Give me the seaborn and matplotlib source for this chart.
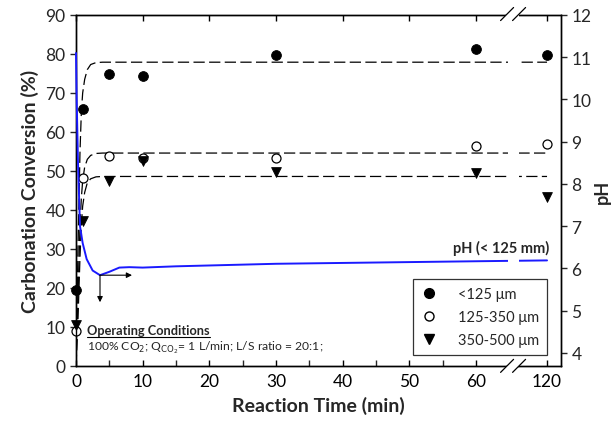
import numpy as np
import pandas as pd
import matplotlib
matplotlib.use("Agg")
import matplotlib.pyplot as plt
import seaborn as sns
from matplotlib.lines import Line2D
from matplotlib.patches import Polygon

# ---------------- data ----------------
t_points = [0, 1, 5, 10, 30, 60, 120]
conv_lt125 = [19.6, 65.8, 74.9, 74.3, 79.8, 81.4, 79.8]
conv_125_350 = [9.0, 48.2, 53.8, 53.4, 53.4, 56.5, 56.8]
conv_350_500 = [10.5, 37.2, 47.4, 52.6, 49.8, 49.5, 43.3]

fit_t = [0, 0.3, 0.6, 0.8, 1.0, 1.3, 1.7, 2.2, 3.0, 4.0, 120]
fit_lt125 = [0, 30, 55, 65, 70, 73.5, 76, 77.3, 77.8, 77.9, 77.9]
fit_125_350 = [0, 18, 36, 43, 47.5, 51, 53, 54, 54.5, 54.6, 54.6]
fit_350_500 = [0, 12, 28, 36, 41, 44.5, 47, 48, 48.5, 48.6, 48.6]

ph_t = [0, 0.1, 0.3, 0.6, 1.0, 1.6, 2.5, 3.6, 5.0, 6.5, 8.0, 10, 15, 20, 30, 40, 50, 60, 120]
ph_vals = [11.1, 10.0, 8.5, 7.0, 6.6, 6.22, 5.95, 5.84, 5.92, 6.02, 6.03, 6.02, 6.05, 6.07, 6.11, 6.13, 6.15, 6.17, 6.19]

x_major = [0, 10, 20, 30, 40, 50, 60, 120]
x_minor = [5, 15, 25, 35, 45, 55]
legend_labels = ["<125 \u03bcm", "125-350 \u03bcm", "350-500 \u03bcm"]

# ---------------- style ----------------
sns.set_style("ticks")
plt.rcParams["font.family"] = ["Lato", "DejaVu Sans"]
plt.rcParams["axes.linewidth"] = 1.0

K = 0.1775          # compression of the segment after 60 min
BREAK = 91.3        # real-time position of the axis break


def fwd(x):
    x = np.asarray(x, dtype=float)
    return np.where(x <= 60, x, 60 + (x - 60) * K)


def inv(d):
    d = np.asarray(d, dtype=float)
    return np.where(d <= 60, d, 60 + (d - 60) / K)


fig = plt.figure(figsize=(6.15, 4.27), dpi=100)
ax = fig.add_axes([76 / 615, 1 - 367 / 427, (561 - 76) / 615, (367 - 16) / 427])
ax.set_xscale("function", functions=(fwd, inv))
ax.set_xlim(0, 131.8)
ax.set_ylim(0, 90)

# fitted dashed curves
for vals in (fit_lt125, fit_125_350, fit_350_500):
    sns.lineplot(x=fit_t, y=vals, ax=ax, color="black", lw=0.9,
                 linestyle=(0, (9, 3.5)), sort=False, estimator=None)

# markers
sns.scatterplot(x=t_points, y=conv_lt125, ax=ax, marker="o", color="black",
                edgecolor="black", s=50, zorder=5, clip_on=False)
sns.scatterplot(x=t_points, y=conv_125_350, ax=ax, marker="o", color="white",
                edgecolor="black", linewidth=0.9, s=42, zorder=5, clip_on=False)
sns.scatterplot(x=t_points, y=conv_350_500, ax=ax, marker="v", color="black",
                edgecolor="black", s=50, zorder=5, clip_on=False)

ax.set_xticks(x_major)
ax.set_xticklabels([str(v) for v in x_major])
ax.set_xticks(x_minor, minor=True)
ax.set_yticks(np.arange(0, 91, 10))
ax.tick_params(axis="x", which="major", direction="in", top=True, length=4,
               width=1, labelsize=12.5, colors="black", pad=5)
ax.tick_params(axis="x", which="minor", direction="in", top=False, length=4, width=1)
ax.tick_params(axis="y", direction="out", length=4, width=1, labelsize=12.5)
ax.set_xlabel("Reaction Time (min)", fontsize=14, fontweight="bold", labelpad=5)
ax.set_ylabel("Carbonation Conversion (%)", fontsize=14, fontweight="bold", labelpad=5)

# pH on the twin axis
ax2 = ax.twinx()
ax2.set_ylim(3.69, 12)
sns.lineplot(x=ph_t, y=ph_vals, ax=ax2, color="#1a1aff", lw=1.4, sort=False,
             estimator=None, zorder=3, clip_on=False)
ax2.set_yticks(np.arange(4, 13, 1))
ax2.tick_params(axis="y", direction="out", length=4, width=1, labelsize=12.5)
ax2.set_ylabel("pH", fontsize=13, fontweight="bold", labelpad=2)
for sp in list(ax.spines.values()) + list(ax2.spines.values()):
    sp.set_color("black")

ax2.annotate("", xy=(8.4, 5.84), xytext=(3.6, 5.84),
             arrowprops=dict(arrowstyle="-|>", color="black", lw=0.8,
                             mutation_scale=8, shrinkA=0, shrinkB=0))
ax2.annotate("", xy=(3.6, 5.2), xytext=(3.6, 5.84),
             arrowprops=dict(arrowstyle="-|>", color="black", lw=0.8,
                             mutation_scale=8, shrinkA=0, shrinkB=0))
ax2.text(121.7, 6.5, "pH (< 125 mm)", ha="right", va="center", fontsize=10.5,
         fontweight="bold", zorder=7)

# operating conditions text
t1 = ax.text(1.65, 9.2, "Operating Conditions", fontsize=9.2, fontweight="bold",
             ha="left", va="center", zorder=6)
ax.text(1.65, 4.9, "100% CO$_2$; Q$_{\\mathrm{CO_2}}$= 1 L/min; L/S ratio = 20:1;",
        fontsize=8.7, ha="left", va="center", zorder=6)

# legend
handles = [
    Line2D([], [], marker="o", ls="none", color="black", markersize=7),
    Line2D([], [], marker="o", ls="none", markerfacecolor="white",
           markeredgecolor="black", markersize=6.5),
    Line2D([], [], marker="v", ls="none", color="black", markersize=7),
]
leg = ax2.legend(handles, legend_labels, loc="lower right",
                 bbox_to_anchor=(0.971, 0.031), borderaxespad=0, fontsize=10.5,
                 frameon=True, fancybox=False, edgecolor="black",
                 handlelength=1.0, handletextpad=1.5, labelspacing=0.62,
                 borderpad=0.55)
leg.get_frame().set_linewidth(0.9)
leg.set_zorder(8)

# axis break: white gap through the lines, plus // marks
fig.canvas.draw()
W, H = fig.canvas.get_width_height()
xb = ax.transData.transform((BREAK, 0))[0]
x_lo = ax2.transData.inverted().transform((xb - 5.5, 0))[0]
x_hi = ax2.transData.inverted().transform((xb + 5.5, 0))[0]
ax2.axvspan(x_lo, x_hi, color="white", zorder=4, lw=0)
ybot = ax.transAxes.transform((0, 0))[1]
ytop = ax.transAxes.transform((0, 1))[1]
for yy in (ybot, ytop):
    poly = [(xb - 6 - 5, yy - 5), (xb + 6 - 5, yy - 5),
            (xb + 6 + 5, yy + 5), (xb - 6 + 5, yy + 5)]
    fig.add_artist(Polygon([(px / W, py / H) for px, py in poly],
                           closed=True, facecolor="white", edgecolor="none",
                           transform=fig.transFigure, zorder=10))
    for xc in (xb - 6, xb + 6):
        fig.add_artist(Line2D([(xc - 6.5) / W, (xc + 6.5) / W],
                              [(yy - 6.5) / H, (yy + 6.5) / H],
                              color="black", lw=0.9, transform=fig.transFigure,
                              zorder=11))

# underline "Operating Conditions"
bb = t1.get_window_extent()
fig.add_artist(Line2D([bb.x0 / W, bb.x1 / W], [(bb.y0 - 1.5) / H, (bb.y0 - 1.5) / H],
                      color="black", lw=0.8, transform=fig.transFigure, zorder=11))

fig.savefig("out.png", dpi=100)
